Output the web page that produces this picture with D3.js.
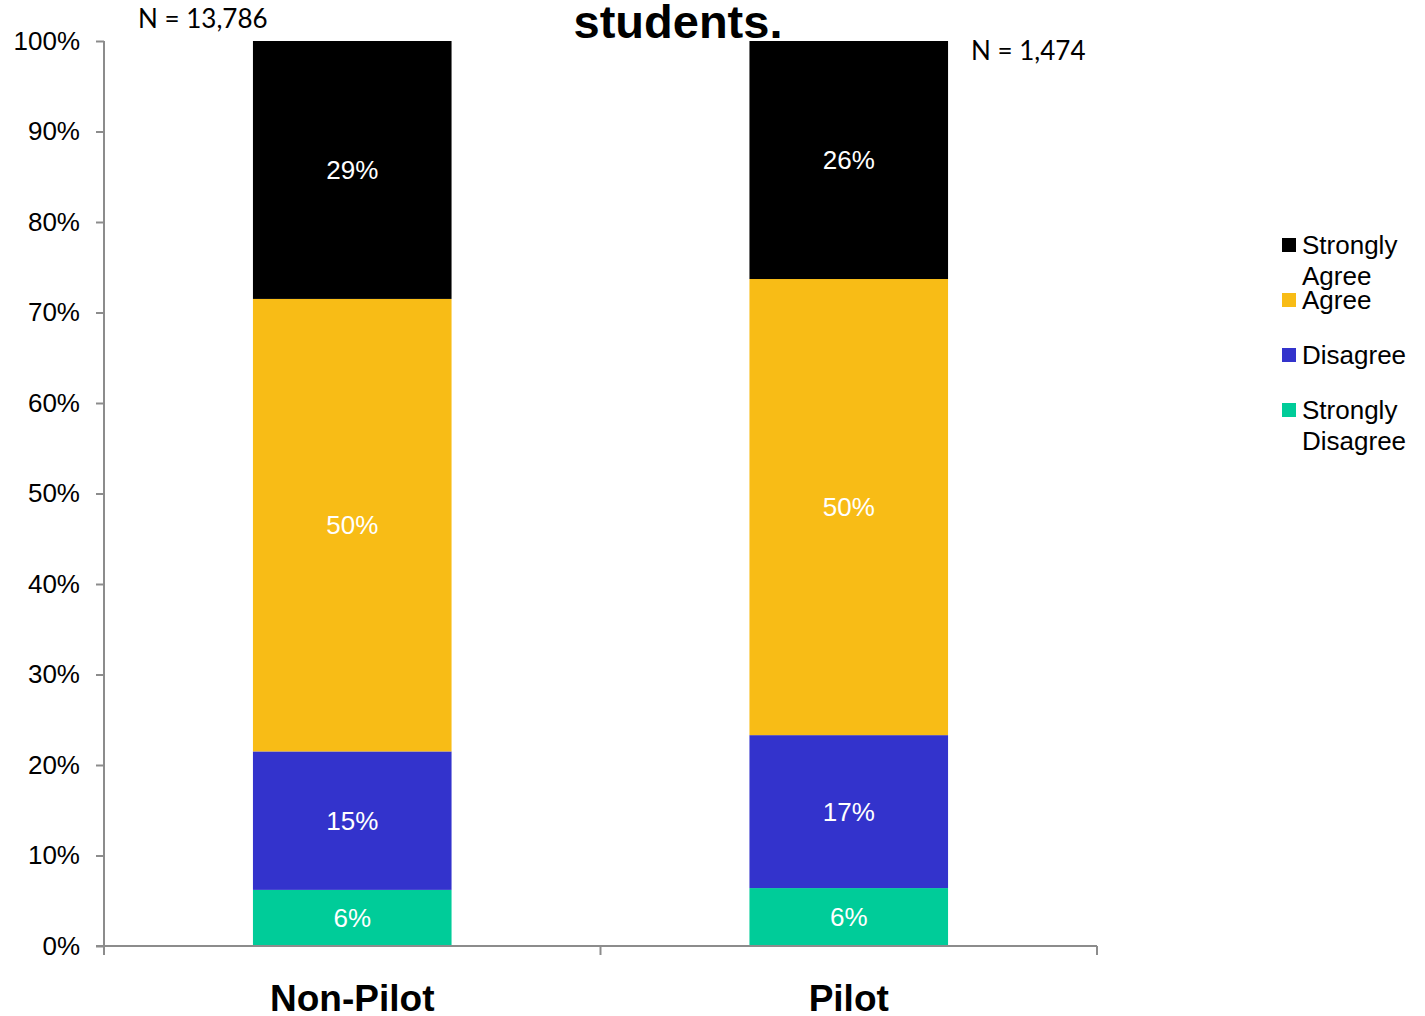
<!DOCTYPE html>
<html>
<head>
<meta charset="utf-8">
<script src="https://cdn.jsdelivr.net/npm/d3@7"></script>
<style>
  html, body { margin: 0; padding: 0; background: #fff; }
  svg { display: block; }
  text { font-family: "Liberation Sans", Arial, sans-serif; }
</style>
</head>
<body>
<svg id="chart" width="1425" height="1016"></svg>
<script>
// Survey groups and response shares (percent of respondents)
const categories = ["Non-Pilot", "Pilot"];
const responses = ["Strongly Disagree", "Disagree", "Agree", "Strongly Agree"];
const stronglyDisagree = [6.2, 6.4];
const disagree = [15.3, 16.9];
const agree = [50.0, 50.4];
const stronglyAgree = [28.5, 26.3];
const sampleSizes = ["N = 13,786", "N = 1,474"];
const yTicks = [0, 10, 20, 30, 40, 50, 60, 70, 80, 90, 100];
const colors = ["#00cc99", "#3333cc", "#f8bc16", "#000000"];
const titleText = "students.";

const rows = categories.map((c, i) => ({
  category: c,
  "Strongly Disagree": stronglyDisagree[i],
  "Disagree": disagree[i],
  "Agree": agree[i],
  "Strongly Agree": stronglyAgree[i]
}));

const svg = d3.select("#chart");
const axisColor = "#8c8c8c";

const x = d3.scaleBand().domain(categories).range([104, 1097]).padding(0);
const y = d3.scaleLinear().domain([0, 100]).range([946, 41]);
const color = d3.scaleOrdinal().domain(responses).range(colors);
const barW = x.bandwidth() * 0.4;

const series = d3.stack().keys(responses)(rows);

// Stacked bars
const layers = svg.append("g").selectAll("g")
  .data(series).join("g")
  .attr("fill", d => color(d.key));

layers.selectAll("rect")
  .data(d => d.map(p => ({ key: d.key, p })))
  .join("rect")
  .attr("x", d => x(d.p.data.category) + x.bandwidth() / 2 - barW / 2)
  .attr("width", barW)
  .attr("y", d => y(d.p[1]))
  .attr("height", d => y(d.p[0]) - y(d.p[1]));

// Segment value labels
layers.selectAll("text")
  .data(d => d.map(p => ({ key: d.key, p })))
  .join("text")
  .attr("x", d => x(d.p.data.category) + x.bandwidth() / 2)
  .attr("y", d => (y(d.p[0]) + y(d.p[1])) / 2)
  .attr("text-anchor", "middle")
  .attr("dominant-baseline", "central")
  .attr("fill", "#fff")
  .attr("font-size", 26)
  .text(d => Math.round(d.p[1] - d.p[0]) + "%");

// Y axis
const yAxis = svg.append("g")
  .attr("transform", "translate(104,0)")
  .call(d3.axisLeft(y).tickValues(yTicks).tickSize(8).tickPadding(16)
    .tickFormat(d => d + "%"));
yAxis.select(".domain").attr("stroke", axisColor).attr("stroke-width", 2).attr("d", `M0,${y(100)}V${y(0)}`);
yAxis.selectAll(".tick line").attr("stroke", axisColor).attr("stroke-width", 2);
yAxis.selectAll(".tick text")
  .attr("font-family", "Liberation Sans, Arial, sans-serif")
  .attr("font-size", 26).attr("fill", "#000");

// X axis with ticks at category boundaries
const xAxis = svg.append("g");
xAxis.append("line")
  .attr("x1", 96).attr("x2", x.range()[1])
  .attr("y1", y(0)).attr("y2", y(0))
  .attr("stroke", axisColor).attr("stroke-width", 2);
const boundaries = categories.map(c => x(c)).concat([x.range()[1]]);
xAxis.selectAll("line.tick").data(boundaries).join("line")
  .attr("class", "tick")
  .attr("x1", d => d).attr("x2", d => d)
  .attr("y1", y(0)).attr("y2", y(0) + 9)
  .attr("stroke", axisColor).attr("stroke-width", 2);
xAxis.selectAll("text").data(categories).join("text")
  .attr("x", d => x(d) + x.bandwidth() / 2)
  .attr("y", 1011)
  .attr("text-anchor", "middle")
  .attr("font-weight", "bold")
  .attr("font-size", 37)
  .text(d => d);

// Title (top of the heading)
svg.append("text")
  .attr("x", 678).attr("y", 38)
  .attr("text-anchor", "middle")
  .attr("font-weight", "bold")
  .attr("font-size", 47)
  .text(titleText);

// Sample size notes
svg.append("text")
  .attr("x", 138).attr("y", 28)
  .style("font-family", "Lato, 'Open Sans', sans-serif")
  .attr("font-size", 26)
  .text(sampleSizes[0]);
svg.append("text")
  .attr("x", 971).attr("y", 60)
  .style("font-family", "Lato, 'Open Sans', sans-serif")
  .attr("font-size", 26)
  .text(sampleSizes[1]);

// Legend
const legendItems = [
  { key: "Strongly Agree", lines: ["Strongly", "Agree"], y: 245 },
  { key: "Agree", lines: ["Agree"], y: 300 },
  { key: "Disagree", lines: ["Disagree"], y: 355 },
  { key: "Strongly Disagree", lines: ["Strongly", "Disagree"], y: 410 }
];
const legend = svg.append("g");
const li = legend.selectAll("g").data(legendItems).join("g")
  .attr("transform", d => `translate(1282,${d.y})`);
li.append("rect")
  .attr("x", 0).attr("y", -7).attr("width", 14).attr("height", 14)
  .attr("fill", d => color(d.key));
li.append("text")
  .attr("font-size", 26)
  .selectAll("tspan").data(d => d.lines).join("tspan")
  .attr("x", 20)
  .attr("y", (d, i) => 9 + i * 31)
  .text(d => d);
</script>
</body>
</html>
